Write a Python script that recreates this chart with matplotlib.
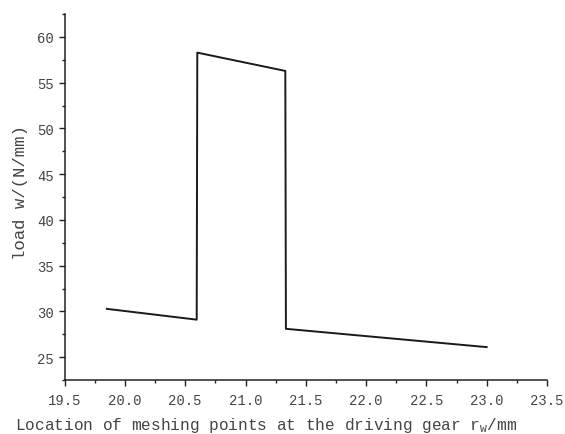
import matplotlib
matplotlib.use("Agg")
import matplotlib.pyplot as plt
from matplotlib.ticker import MultipleLocator

# load distribution along the line of action (single/double tooth contact)
r_w = [19.85, 20.595, 20.60, 21.33, 21.335, 23.0]
load = [30.28, 29.10, 58.28, 56.28, 28.10, 26.10]

plt.rcParams["font.family"] = ["Liberation Mono", "DejaVu Sans Mono"]
plt.rcParams["mathtext.fontset"] = "custom"
plt.rcParams["mathtext.rm"] = "Liberation Mono"
plt.rcParams["mathtext.it"] = "Liberation Mono"

txt = "#444444"
fig = plt.figure(figsize=(5.65, 4.35), dpi=100)
ax = fig.add_axes([0.1145, 0.124, 0.8535, 0.8415])

ax.plot(r_w, load, color="#1a1a1a", lw=1.4)

ax.set_xlim(19.5, 23.5)
ax.set_ylim(22.5, 62.5)
ax.xaxis.set_major_locator(MultipleLocator(0.5))
ax.xaxis.set_minor_locator(MultipleLocator(0.25))
ax.yaxis.set_major_locator(MultipleLocator(5))
ax.yaxis.set_minor_locator(MultipleLocator(2.5))
ax.xaxis.set_major_formatter(lambda v, p: f"{v:.1f}")

for s in ("top", "right"):
    ax.spines[s].set_visible(False)
for s in ("left", "bottom"):
    ax.spines[s].set_linewidth(1.1)
    ax.spines[s].set_color("#222222")

ax.tick_params(which="major", direction="out", length=4.5, width=1.0,
               color="#222222", labelsize=10, labelcolor=txt)
ax.tick_params(axis="x", which="major", pad=5)
ax.tick_params(which="minor", direction="out", length=2.5, width=1.0,
               color="#222222")

ax.set_xlabel(r"Location of meshing points at the driving gear r$_{\mathrm{W}}$/mm",
              fontsize=11.6, color=txt, loc="left")
ax.xaxis.set_label_coords(-0.103, -0.095)
ax.set_ylabel("load w/(N/mm)", fontsize=12.5, color=txt)
ax.yaxis.set_label_coords(-0.076, 0.515)

fig.savefig("out.png", dpi=100)
